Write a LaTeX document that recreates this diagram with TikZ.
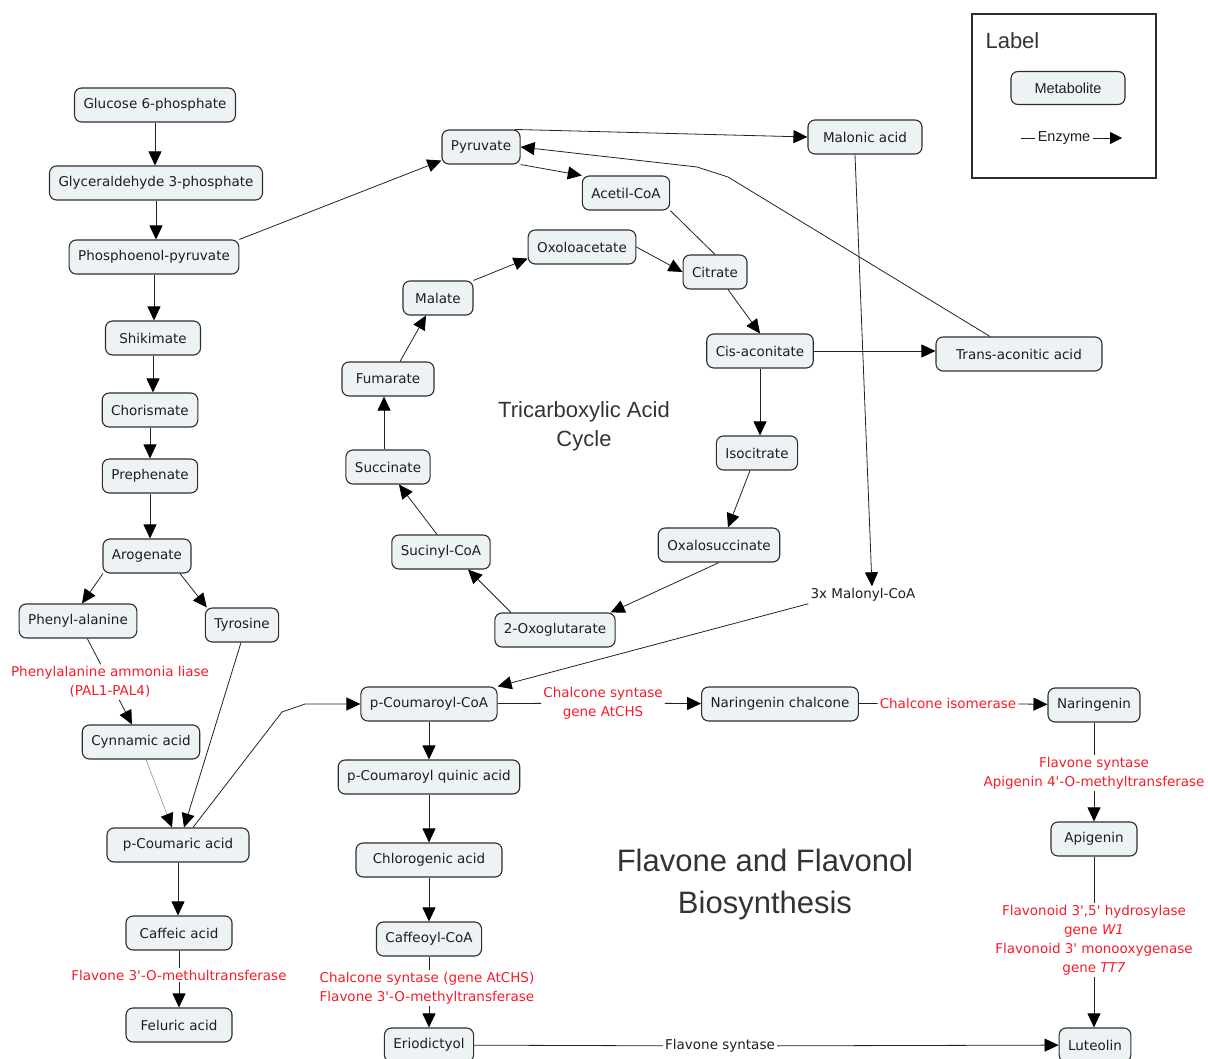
\documentclass[tikz,border=0pt]{standalone}
\usepackage{fontspec}
\setmainfont{DejaVu Sans}[Ligatures=TeXOff]
\newfontfamily\arialfont{Liberation Sans}
\usetikzlibrary{arrows.meta}
\definecolor{metfill}{HTML}{EDF3F5}
\definecolor{metline}{HTML}{2E2E2E}
\definecolor{linecol}{HTML}{222222}
\definecolor{enzred}{HTML}{F41C28}
\definecolor{txtgray}{HTML}{1E1E1E}
\definecolor{titlegray}{HTML}{333333}

\begin{document}
\begin{tikzpicture}[x=1pt, y=-1pt,
	met/.style={draw=metline, fill=metfill, rounded corners=7pt, line width=1.1pt, minimum height=34pt, inner xsep=9pt, text=txtgray, font=\fontsize{13.5}{16}\selectfont},
	enz/.style={text=enzred, align=center, inner sep=2pt, font=\fontsize{13.5}{19}\selectfont},
	plain/.style={text=txtgray, inner sep=2pt, font=\fontsize{13.5}{16}\selectfont},
	titletext/.style={text=titlegray, align=center, font=\arialfont\fontsize{22}{29}\selectfont},
	arr/.style={-{Triangle[length=14pt,width=13pt,color=black,fill=black]}, draw=linecol, line width=0.8pt},
	link/.style={draw=linecol, line width=0.8pt}]
	\useasboundingbox (0,0) rectangle (1208,1059);

	% shikimate pathway
	\node[met] (g6p) at (155,105) {Glucose 6-phosphate};
	\node[met] (g3p) at (156,183) {Glyceraldehyde 3-phosphate};
	\node[met] (pep) at (154,257) {Phosphoenol-pyruvate};
	\node[met, minimum width=95pt] (shik) at (153,338) {Shikimate};
	\node[met] (chor) at (150,410) {Chorismate};
	\node[met] (preph) at (150,476) {Prephenate};
	\node[met] (arog) at (147,556) {Arogenate};
	\node[met] (phe) at (78,621) {Phenyl-alanine};
	\node[met] (tyr) at (242,625) {Tyrosine};
	\node[enz] (pal) at (110,682) {Phenylalanine ammonia liase\\(PAL1-PAL4)};
	\node[met] (cyn) at (141,742) {Cynnamic acid};
	\node[met, minimum width=142pt] (pcou) at (178,845) {p-Coumaric acid};
	\node[met, minimum width=106pt] (caff) at (179,933) {Caffeic acid};
	\node[enz] (fomt) at (179,975) {Flavone 3'-O-methultransferase};
	\node[met, minimum width=106pt] (fer) at (179,1025) {Feluric acid};

	% tricarboxylic acid cycle
	\node[met] (pyr) at (481,147) {Pyruvate};
	\node[met, minimum width=114pt] (malo) at (865,137) {Malonic acid};
	\node[met] (acoa) at (626,193) {Acetil-CoA};
	\node[met] (oxa) at (582,247) {Oxoloacetate};
	\node[met] (cit) at (715,272) {Citrate};
	\node[met, minimum width=70pt] (mal) at (438,298) {Malate};
	\node[met] (cis) at (760,351) {Cis-aconitate};
	\node[met, minimum width=166pt] (trans) at (1019,354) {Trans-aconitic acid};
	\node[met, minimum width=92pt] (fum) at (388,379) {Fumarate};
	\node[met] (iso) at (757,453) {Isocitrate};
	\node[met] (succ) at (388,467) {Succinate};
	\node[met] (oxs) at (719,545) {Oxalosuccinate};
	\node[met] (scoa) at (441,552) {Sucinyl-CoA};
	\node[met] (ogl) at (555,630) {2-Oxoglutarate};
	\node[titletext] (tcatitle) at (584,426) {Tricarboxylic Acid\\Cycle};
	\coordinate (tb1) at (728,177);
	\coordinate (tb2) at (697,167);

	% flavone and flavonol biosynthesis
	\node[plain] (mcoa) at (863,595) {3x Malonyl-CoA};
	\node[met] (pcoa) at (429,704) {p-Coumaroyl-CoA};
	\node[enz] (chs) at (603,703) {Chalcone syntase\\gene AtCHS};
	\node[met] (narch) at (780,704) {Naringenin chalcone};
	\node[enz] (chi) at (948,703) {Chalcone isomerase};
	\node[met] (nar) at (1094,705) {Naringenin};
	\node[enz] (fns) at (1094,773) {Flavone syntase\\Apigenin 4'-O-methyltransferase};
	\node[met, minimum width=86pt] (api) at (1094,839) {Apigenin};
	\node[enz] (f3h) at (1094,940) {Flavonoid 3',5' hydrosylase\\gene \textit{W1}\\Flavonoid 3' monooxygenase\\gene \textit{TT7}};
	\node[met] (lut) at (1095,1045) {Luteolin};
	\node[met] (pcq) at (429,777) {p-Coumaroyl quinic acid};
	\node[met, minimum width=146pt] (chl) at (429,860) {Chlorogenic acid};
	\node[met] (cfcoa) at (429,939) {Caffeoyl-CoA};
	\node[enz] (chsomt) at (427,988) {Chalcone syntase (gene AtCHS)\\Flavone 3'-O-methyltransferase};
	\node[met] (erio) at (429,1045) {Eriodictyol};
	\node[plain] (fnsb) at (720,1046) {Flavone syntase};
	\node[titletext, font=\arialfont\fontsize{31}{42}\selectfont] (flvtitle) at (765,884) {Flavone and Flavonol\\Biosynthesis};
	\coordinate (pc1) at (282,712);
	\coordinate (pc2) at (305,704);

	% legend
	\node[draw=metline, line width=1.3pt, minimum width=184pt, minimum height=164pt] (legend) at (1064,96) {};
	\node[text=titlegray, anchor=west, font=\arialfont\fontsize{22}{24}\selectfont] (legtitle) at (982,41) {Label};
	\node[met, minimum width=114pt, minimum height=33pt, font=\arialfont\fontsize{14.5}{16}\selectfont] (legmet) at (1068,88) {Metabolite};
	\node[plain, inner sep=3pt, font=\arialfont\fontsize{14.5}{16}\selectfont] (legenz) at (1064,138) {Enzyme};
	\coordinate (legA) at (1021,138);
	\coordinate (legB) at (1122,138);
	\draw[link] (legA) -- (legenz);
	\draw[arr, -{Triangle[length=12pt,width=12pt,color=black,fill=black]}] (legenz) -- (legB);

	\foreach \a/\b in {g6p/g3p, g3p/pep, pep/shik, shik/chor, chor/preph, preph/arog, pcou/caff,
		pcoa/pcq, pcq/chl, chl/cfcoa, cis/iso, f3h/lut, fns/api, fomt/fer}
		\draw[arr] (\a.south) -- (\a.south |- \b.north);
	\draw[arr] (erio.north |- chsomt.south) -- (erio.north);
	\foreach \a/\b in {pal/cyn, chs/narch, chi/nar, fnsb/lut}
		\draw[arr] (\a) -- (\b);
	\foreach \a/\b in {phe/pal, pcoa/chs, narch/chi, erio/fnsb}
		\draw[link] (\a) -- (\b);
	\foreach \a/\b in {caff/fomt, cfcoa/chsomt, nar/fns, api/f3h}
		\draw[link] (\a.south) -- (\a.south |- \b.north);

	\draw[arr] (pep.north east) -- ([yshift=4pt]pyr.south west);
	\draw[arr] ([xshift=-44pt]arog.south) -- ([xshift=4pt]phe.north);
	\draw[arr] ([xshift=33pt]arog.south) -- ([xshift=2pt]tyr.north west);
	\draw[arr] ([xshift=-1pt]tyr.south) -- ([xshift=6pt]pcou.north);
	\draw[arr, draw=gray, line width=0.5pt] ([xshift=5pt]cyn.south) -- ([xshift=-6pt]pcou.north);
	\draw[arr] ([xshift=15pt]pcou.north) -- (pc1) -- (pc2) -- (pcoa.west);

	\draw[arr] ([xshift=-6pt]pyr.north east) -- (malo.west);
	\draw[arr] (pyr.south east) -- (acoa.north west);
	\draw[link] (acoa.south east) -- (cit.north);
	\draw[arr] (oxa.east) -- (cit.west);
	\draw[arr] (mal.north east) -- ([yshift=6pt]oxa.south west);
	\draw[arr] ([xshift=12pt]fum.north) -- ([xshift=-12pt]mal.south);
	\draw[arr] ([xshift=-4pt]succ.north) -- ([xshift=-4pt]succ.north |- fum.south);
	\draw[arr] ([xshift=-4pt]scoa.north) -- ([xshift=11pt]succ.south);
	\draw[arr] ([xshift=-44pt]ogl.north) -- ([xshift=27pt]scoa.south);
	\draw[arr] (oxs.south) -- ([xshift=-5pt]ogl.north east);
	\draw[arr] ([xshift=-7pt]iso.south) -- ([xshift=9pt]oxs.north);
	\draw[arr] ([xshift=13pt]cit.south) -- (cis.north);
	\draw[arr] (cis.east) -- (cis.east -| trans.west);
	\draw[arr] ([xshift=-29pt]trans.north) -- (tb1) -- (tb2) -- (pyr.east);

	\draw[arr] ([xshift=-10pt]malo.south) -- ([xshift=9pt]mcoa.north);
	\draw[arr] (mcoa.south west) -- (pcoa.north east);
\end{tikzpicture}
\end{document}
